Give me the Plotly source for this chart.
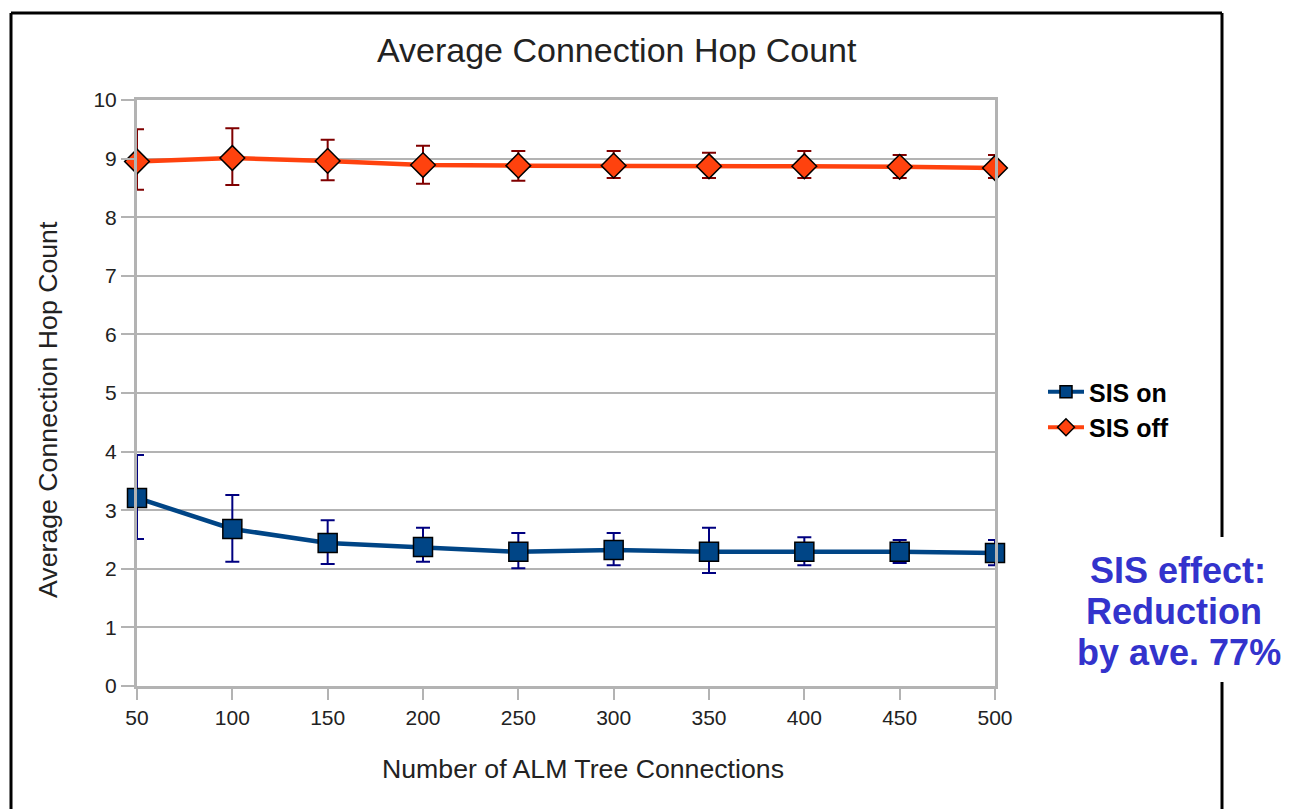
import plotly.graph_objects as go

connections = [50, 100, 150, 200, 250, 300, 350, 400, 450, 500]

sis_on = [3.21, 2.68, 2.44, 2.37, 2.29, 2.32, 2.29, 2.29, 2.29, 2.27]
sis_on_hi = [3.94, 3.26, 2.83, 2.70, 2.61, 2.61, 2.70, 2.54, 2.49, 2.49]
sis_on_lo = [2.51, 2.12, 2.08, 2.12, 2.01, 2.06, 1.93, 2.06, 2.10, 2.06]

sis_off = [8.95, 9.01, 8.96, 8.89, 8.88, 8.88, 8.87, 8.87, 8.86, 8.84]
sis_off_hi = [9.50, 9.52, 9.32, 9.22, 9.13, 9.13, 9.10, 9.13, 9.06, 9.06]
sis_off_lo = [8.47, 8.55, 8.63, 8.57, 8.62, 8.67, 8.67, 8.67, 8.67, 8.67]

yticks = list(range(0, 11))

# page offset of the plot div (body margin)
OX, OY = 8, 8
W, H = 1290 - OX, 809 - OY
L, R, T, B = 137 - OX, 995 - OX, 100 - OY, 686 - OY


def px(x):
    return (x - OX - L) / (R - L)


def py(y):
    return (B - (y - OY)) / (B - T)


FONT = "Liberation Sans, Arial, sans-serif"
TXT = "#222"
ON_C, ON_ERR = "#004586", "#000080"
OFF_C, OFF_ERR = "#ff420e", "#800000"

fig = go.Figure()

fig.add_trace(go.Scatter(
    x=connections, y=sis_on, name="SIS on", mode="lines+markers", showlegend=False,
    line=dict(color=ON_C, width=4.5),
    marker=dict(symbol="square", size=19, color=ON_C,
                line=dict(color="black", width=1.5)),
    error_y=dict(type="data", symmetric=False,
                 array=[h - v for h, v in zip(sis_on_hi, sis_on)],
                 arrayminus=[v - l for v, l in zip(sis_on, sis_on_lo)],
                 color=ON_ERR, thickness=2, width=7),
    cliponaxis=False,
))

fig.add_trace(go.Scatter(
    x=connections, y=sis_off, name="SIS off", mode="lines+markers", showlegend=False,
    line=dict(color=OFF_C, width=4.5),
    marker=dict(symbol="diamond", size=19, color=OFF_C,
                line=dict(color="black", width=1.5)),
    error_y=dict(type="data", symmetric=False,
                 array=[h - v for h, v in zip(sis_off_hi, sis_off)],
                 arrayminus=[v - l for v, l in zip(sis_off, sis_off_lo)],
                 color=OFF_ERR, thickness=2, width=7),
    cliponaxis=False,
))

# legend entries with smaller symbols
fig.add_trace(go.Scatter(
    x=[None], y=[None], name="SIS on", mode="lines+markers",
    line=dict(color=ON_C, width=4),
    marker=dict(symbol="square", size=12, color=ON_C, line=dict(color="black", width=1.5)),
))
fig.add_trace(go.Scatter(
    x=[None], y=[None], name="SIS off", mode="lines+markers",
    line=dict(color=OFF_C, width=4),
    marker=dict(symbol="diamond", size=13, color=OFF_C, line=dict(color="black", width=1.5)),
))

axis_font = dict(family=FONT, size=21, color=TXT)

fig.update_layout(
    width=W, height=H,
    margin=dict(l=L, r=W - R, t=T, b=H - B, pad=0),
    paper_bgcolor="white", plot_bgcolor="white",
    font=dict(family=FONT, color=TXT),
    xaxis=dict(range=[50, 500], tickvals=connections, ticktext=[str(c) for c in connections],
               showgrid=False, zeroline=False,
               showline=True, linecolor="#b3b3b3", linewidth=3, mirror=True,
               ticks="outside", ticklen=11, tickcolor="#b3b3b3", tickwidth=2,
               tickfont=axis_font),
    yaxis=dict(range=[0, 10], tickvals=yticks, ticktext=[str(t) for t in yticks],
               showgrid=True, gridcolor="#b3b3b3", gridwidth=1.5, zeroline=False,
               showline=True, linecolor="#b3b3b3", linewidth=3, mirror=True,
               ticks="outside", ticklen=13, tickcolor="#b3b3b3", tickwidth=1.5,
               tickfont=axis_font),
    legend=dict(x=px(1043), y=py(369), xanchor="left", yanchor="top",
                font=dict(size=25, color="black", family=FONT, weight="bold"),
                bgcolor="rgba(0,0,0,0)", tracegroupgap=0, itemwidth=36),
    showlegend=True,
)

# Title and axis titles
fig.add_annotation(xref="paper", yref="paper", x=px(617), y=py(50), xanchor="center", yanchor="middle",
                   text="Average Connection Hop Count", showarrow=False,
                   font=dict(size=34, color=TXT, family=FONT))
fig.add_annotation(xref="paper", yref="paper", x=px(583), y=py(769), xanchor="center", yanchor="middle",
                   text="Number of ALM Tree Connections", showarrow=False,
                   font=dict(size=26.7, color=TXT, family=FONT))
fig.add_annotation(xref="paper", yref="paper", x=px(48), y=py(410), xanchor="center", yanchor="middle",
                   text="Average Connection Hop Count", showarrow=False, textangle=-90,
                   font=dict(size=26.7, color=TXT, family=FONT))

# Outer border
border = dict(color="black", width=3)
fig.add_shape(type="line", xref="paper", yref="paper", x0=px(11), x1=px(11), y0=py(13), y1=py(830), line=border)
fig.add_shape(type="line", xref="paper", yref="paper", x0=px(11), x1=px(1222), y0=py(13), y1=py(13), line=border)
fig.add_shape(type="line", xref="paper", yref="paper", x0=px(1222), x1=px(1222), y0=py(13), y1=py(537), line=border)
fig.add_shape(type="line", xref="paper", yref="paper", x0=px(1222), x1=px(1222), y0=py(682), y1=py(830), line=border)

note_lines = ["SIS effect:", "Reduction", "by ave. 77%"]
note_x = [1178, 1174, 1179]
note_y = [570, 611, 652]
for t, x, y in zip(note_lines, note_x, note_y):
    fig.add_annotation(
        xref="paper", yref="paper", x=px(x), y=py(y), xanchor="center", yanchor="middle",
        text="<b>" + t + "</b>", showarrow=False,
        font=dict(size=36, color="#3333cc", family=FONT),
    )

fig.write_html("out.html")
